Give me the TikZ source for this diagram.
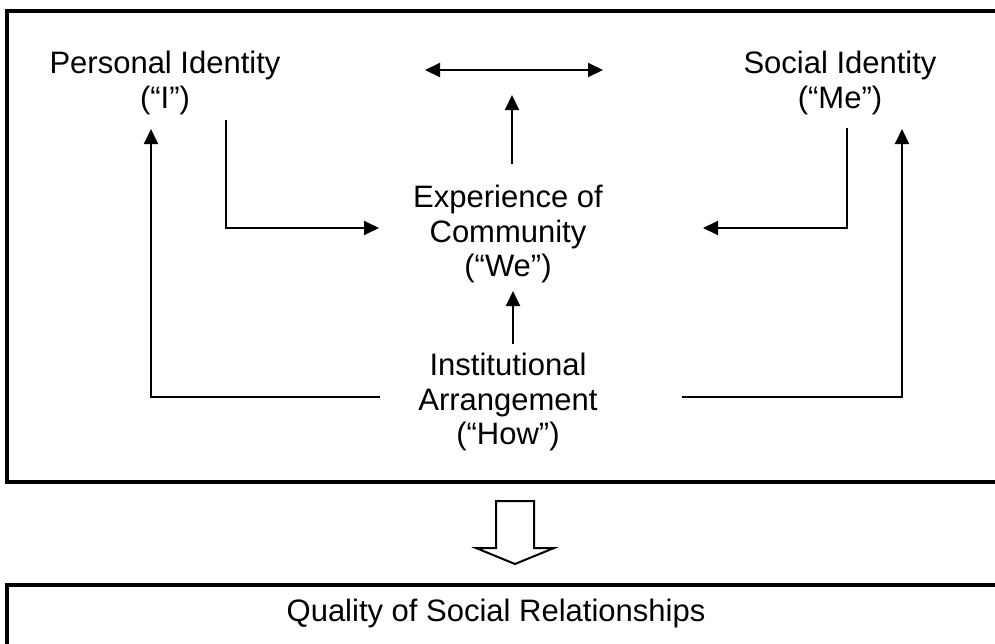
\documentclass[tikz,border=0pt]{standalone}
\usepackage{fontspec}
\setmainfont{Liberation Sans}
\usetikzlibrary{arrows.meta}
\tikzset{
	txt/.style={align=center, inner sep=0pt, font=\fontsize{15.5}{17.2}\selectfont},
	link/.style={line width=1pt, -{Triangle[length=7.5pt,width=7pt]}},
	twolink/.style={line width=1pt, {Triangle[length=7.5pt,width=7pt]}-{Triangle[length=7.5pt,width=7pt]}},
	panel/.style={line width=1.6pt},
}
\begin{document}
\begin{tikzpicture}[x=0.5pt,y=-0.5pt]
			\useasboundingbox (0,0) rectangle (995,643);
			\clip (0,0) rectangle (995,643);
			% frames
			\draw[panel] (7,11) rectangle (1010,482);
			\draw[panel] (7,585) rectangle (1010,660);
			% texts
			\node[txt] (pid) at (165,83) {Personal Identity\\(“I”)};
			\node[txt] (sid) at (840,83) {Social Identity\\(“Me”)};
			\node[txt] (exp) at (508,234) {Experience of\\Community\\(“We”)};
			\node[txt] (inst) at (508,402) {Institutional\\Arrangement\\(“How”)};
			\node[txt] (qual) at (496,613) {Quality of Social Relationships};
			% arrow ends
			\coordinate (top-l) at (425,70);
			\coordinate (top-r) at (603,70);
			\coordinate (top-in) at (512,95);
			\coordinate (exp-up) at (512,164);
			\coordinate (exp-dn) at (513,291);
			\coordinate (inst-up) at (513,344);
			\coordinate (pid-out) at (226,120);
			\coordinate (exp-l) at (379,228);
			\coordinate (sid-out) at (847,128);
			\coordinate (exp-r) at (703,228);
			\coordinate (inst-l) at (380,397);
			\coordinate (pid-in) at (151,129);
			\coordinate (inst-r) at (682,397);
			\coordinate (sid-in) at (902,129);
			% connectors
			\draw[twolink] (top-l) -- (top-r);
			\draw[link] (exp-up) -- (top-in);
			\draw[link] (inst-up) -- (exp-dn);
			\draw[link] (pid-out) |- (exp-l);
			\draw[link] (sid-out) |- (exp-r);
			\draw[link] (inst-l) -| (pid-in);
			\draw[link] (inst-r) -| (sid-in);
			% block arrow
			\draw[line width=1pt, fill=white]
				(496,501) -- (534,501) -- (534,548) -- (554,548)
				-- (515,564) -- (476,548) -- (496,548) -- cycle;
		\end{tikzpicture}
\end{document}
